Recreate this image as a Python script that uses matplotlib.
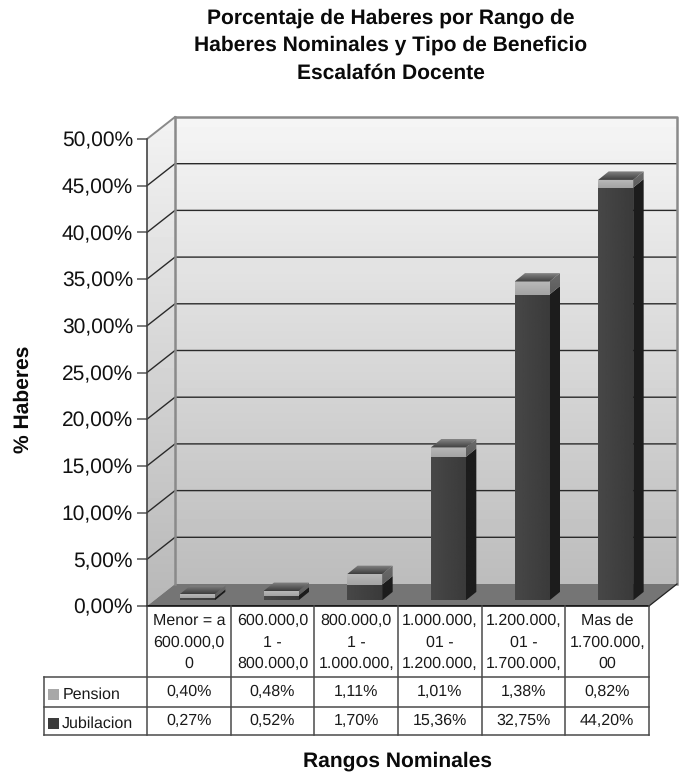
import numpy as np
import matplotlib
matplotlib.use("Agg")
import matplotlib.pyplot as plt
from matplotlib.patches import Polygon

plt.rcParams['font.family'] = ['Liberation Sans', 'DejaVu Sans']
plt.rcParams['text.hinting'] = 'no_hinting'
plt.rcParams['text.hinting_factor'] = 1

title_lines = ["Porcentaje de Haberes por Rango de", "Haberes Nominales y Tipo de Beneficio", "Escalafón Docente"]
categories = ["Menor = a\n600.000,0\n0", "600.000,0\n1 -\n800.000,0", "800.000,0\n1 -\n1.000.000,",
              "1.000.000,\n01 -\n1.200.000,", "1.200.000,\n01 -\n1.700.000,", "Mas de\n1.700.000,\n00"]
pension = [0.40, 0.48, 1.11, 1.01, 1.38, 0.82]
jubilacion = [0.27, 0.52, 1.70, 15.36, 32.75, 44.20]
yticks = [0, 5, 10, 15, 20, 25, 30, 35, 40, 45, 50]

W, H = 685, 773
fig = plt.figure(figsize=(W/100, H/100), dpi=100, facecolor='white')

# overlay in pixel coordinates for the table frame and labels
ov = fig.add_axes([0, 0, 1, 1], zorder=3)
ov.set_xlim(0, W); ov.set_ylim(H, 0); ov.axis('off'); ov.patch.set_alpha(0)

# front plane of the 3D box
L, R, Y0, Y50 = 147, 649, 606, 139
ax = fig.add_axes([L/W, 1-Y0/H, (R-L)/W, (Y0-Y50)/H], zorder=2)
ax.patch.set_alpha(0)
for s in ax.spines.values():
    s.set_visible(False)
ux = (R-L)/6; uy = (Y0-Y50)/50
DX = 28/ux; DY = 22/uy   # wall depth in data units
ax.set_xticks([])
ax.set_yticks(yticks)
ax.set_yticklabels([f"{v:.2f}%".replace('.', ',') for v in yticks], fontsize=15, color='#111111')
ax.tick_params(axis='y', length=7.2, width=1.1, color='#555555', pad=2.9)

def grad(poly, c0, c1, horizontal=False, z=1):
    """fill polygon with linear gradient c0 (bottom/left) -> c1 (top/right)"""
    poly = np.array(poly)
    p = Polygon(poly, closed=True, fc='none', ec='none', zorder=z, clip_on=False)
    ax.add_patch(p)
    g = np.linspace(c0, c1, 64)
    g = g[None, :] if horizontal else g[::-1, None]
    ext = [poly[:, 0].min(), poly[:, 0].max(), poly[:, 1].min(), poly[:, 1].max()]
    im = ax.imshow(g, cmap='gray', vmin=0, vmax=1, extent=ext, aspect='auto', zorder=z,
                   interpolation='bilinear')
    im.set_clip_box(fig.bbox)
    im.set_clip_path(p)

# walls
grad([(DX, DY), (6+DX, DY), (6+DX, 50+DY), (DX, 50+DY)], 0.74, 0.96, z=1)
grad([(0, 0), (DX, DY), (DX, 50+DY), (0, 50)], 0.72, 0.95, z=1)
ax.add_patch(Polygon([(0, 0), (6, 0), (6+DX, DY), (DX, DY)], fc='#757575', ec='none', zorder=1.5, clip_on=False))
# gridlines on the walls
for v in yticks[1:-1]:
    ax.plot([0, DX, 6+DX], [v, v+DY, v+DY], color='#2a2a2a', lw=1.0, zorder=1.6, clip_on=False)
ax.plot([DX, DX], [DY, 50+DY], color='#8a8a8a', lw=1.8, zorder=1.7, clip_on=False)
ax.plot([DX, 6+DX, 6+DX], [50+DY, 50+DY, DY], color='#8a8a8a', lw=1.8, zorder=1.7, clip_on=False)
ax.plot([0, DX], [50, 50+DY], color='#8a8a8a', lw=1.4, zorder=1.7, clip_on=False)
ax.plot([0, 0], [0, 50], color='#444444', lw=1.2, zorder=1.7, clip_on=False)
ax.plot([0, 6], [0, 0], color='black', lw=1.1, zorder=1.7, clip_on=False)
ax.plot([6, 6+DX], [0, DY], color='#222222', lw=0.9, zorder=1.7, clip_on=False)

# bars
bw = 35/ux; bdx = 10.5/ux; bdy = 8.5/uy; ox = 8.5/ux; oy = 5.6/uy
for i, (j, p) in enumerate(zip(jubilacion, pension)):
    x0 = i + .5 - bw/2 + ox; x1 = x0 + bw
    b = oy; m = oy + j; t = m + p
    z = 2 + i*0.01
    grad([(x1, b), (x1+bdx, b+bdy), (x1+bdx, m+bdy), (x1, m)], 0.11, 0.11, z=z)
    grad([(x1, m), (x1+bdx, m+bdy), (x1+bdx, t+bdy), (x1, t)], 0.36, 0.42, z=z)
    grad([(x0, b), (x1, b), (x1, m), (x0, m)], 0.28, 0.23, horizontal=True, z=z)
    grad([(x0, m), (x1, m), (x1, t), (x0, t)], 0.64, 0.72, z=z)
    grad([(x0, t), (x1, t), (x1+bdx, t+bdy), (x0+bdx, t+bdy)], 0.24, 0.52, z=z)
ax.set_xlim(0, 6); ax.set_ylim(0, 50)

# data table
edges = np.linspace(L, R, 7)
rows = [606, 677, 707, 735]
LEG = 44
lc = '#4a4a4a'
for e in edges:
    ov.plot([e, e], [rows[0], rows[3]], color=lc, lw=1.1)
ov.plot([LEG, LEG], [rows[1], rows[3]], color=lc, lw=1.1)
for r in rows[1:]:
    ov.plot([LEG, R], [r, r], color=lc, lw=1.1)
tfs = 11.7
tc = '#1a1a1a'
for i, c in enumerate(categories):
    cx = (edges[i]+edges[i+1])/2
    for k, line in enumerate(c.split('\n')):
        ov.text(cx, 621+k*21.6, line, ha='center', va='center', fontsize=tfs, color=tc)
    ov.text(cx, 692, f"{pension[i]:.2f}%".replace('.', ','), ha='center', va='center', fontsize=tfs, color=tc)
    ov.text(cx, 721, f"{jubilacion[i]:.2f}%".replace('.', ','), ha='center', va='center', fontsize=tfs, color=tc)
ov.add_patch(plt.Rectangle((48, 689), 11, 11, fc='#a8a8a8', ec='none'))
ov.add_patch(plt.Rectangle((48, 718), 11, 11, fc='#3c3c3c', ec='none'))
ov.text(62.5, 694.5, "Pension", ha='left', va='center', fontsize=tfs, color=tc)
ov.text(62, 723.5, "Jubilacion", ha='left', va='center', fontsize=tfs, color=tc)

# titles
tfsb = 15.2
for k, line in enumerate(title_lines):
    ov.text(391, 18+k*27.5, line, ha='center', va='center', fontsize=tfsb, fontweight='bold', color='#0a0a0a')
ov.text(23, 399, "% Haberes", rotation=90, ha='center', va='center', fontsize=tfsb, fontweight='bold', color='#0a0a0a')
ov.text(398, 761, "Rangos Nominales", ha='center', va='center', fontsize=tfsb, fontweight='bold', color='#0a0a0a')

fig.savefig("out.png", dpi=100)
